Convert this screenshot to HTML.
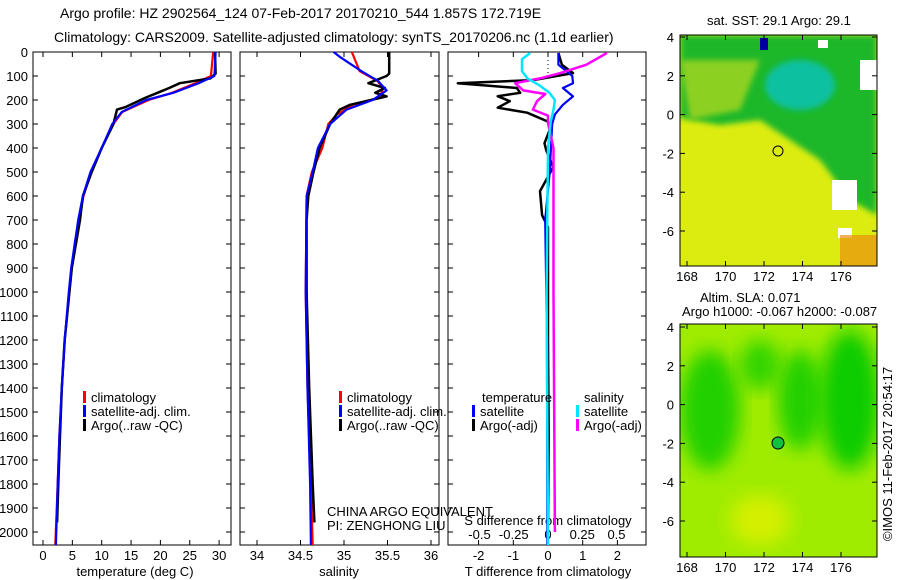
<!DOCTYPE html>
<html><head><meta charset="utf-8">
<style>
html,body{margin:0;padding:0;background:#fff;}
svg{display:block;font-family:"Liberation Sans",sans-serif;}
text{font-size:13px;fill:#000;}
text.title{font-size:14px;}
</style></head>
<body>
<svg id="chart" width="900" height="580" viewBox="0 0 900 580" xmlns="http://www.w3.org/2000/svg">
<defs>
<filter id="blur" x="-20%" y="-20%" width="140%" height="140%"><feGaussianBlur stdDeviation="9"/></filter>
<filter id="blur2" x="-20%" y="-20%" width="140%" height="140%"><feGaussianBlur stdDeviation="3"/></filter>
<clipPath id="clip1"><rect x="680" y="35" width="197" height="231"/></clipPath>
<clipPath id="clip2"><rect x="680" y="324" width="197" height="233"/></clipPath>
</defs>
<text class="title" x="60" y="18">Argo profile: HZ 2902564_124 07-Feb-2017 20170210_544 1.857S 172.719E</text>
<text class="title" x="54" y="42">Climatology: CARS2009. Satellite-adjusted climatology: synTS_20170206.nc (1.1d earlier)</text>

<g clip-path="url(#clip1)">
 <rect x="680" y="35" width="197" height="231" fill="#dcec10"/>
 <path d="M680,35 L877,35 L877,215 L850,200 L820,160 L790,140 L760,120 L720,125 L680,118 Z" fill="#1cb82a" filter="url(#blur2)"/>
 <path d="M680,60 L760,60 L740,110 L690,120 Z" fill="#8cd020" filter="url(#blur2)"/>
 <ellipse cx="800" cy="85" rx="35" ry="25" fill="#10c0a0" filter="url(#blur2)"/>
 <rect x="760" y="38" width="8" height="12" fill="#0000a0"/>
 <rect x="832" y="180" width="25" height="30" fill="#ffffff"/>
 <rect x="860" y="60" width="17" height="30" fill="#ffffff"/>
 <rect x="838" y="228" width="14" height="10" fill="#ffffff"/>
 <rect x="818" y="40" width="10" height="8" fill="#ffffff"/>
 <rect x="840" y="235" width="37" height="31" fill="#e89010" opacity="0.7"/>
 <circle cx="778" cy="151" r="5" fill="none" stroke="#000" stroke-width="1"/>
</g>
<rect x="680" y="35" width="197" height="231" fill="none" stroke="#000"/>
<text x="707" y="25">sat. SST: 29.1  Argo: 29.1</text>

<g clip-path="url(#clip2)">
 <rect x="680" y="324" width="197" height="233" fill="#a0ec00"/>
 <ellipse cx="710" cy="410" rx="30" ry="60" fill="#20d000" filter="url(#blur)"/>
 <ellipse cx="760" cy="365" rx="20" ry="25" fill="#30d400" filter="url(#blur)"/>
 <ellipse cx="800" cy="400" rx="22" ry="50" fill="#20d000" filter="url(#blur)"/>
 <ellipse cx="850" cy="400" rx="30" ry="70" fill="#10cc00" filter="url(#blur)"/>
 <ellipse cx="760" cy="520" rx="30" ry="25" fill="#d4f000" filter="url(#blur)"/>
 <circle cx="778" cy="443" r="6" fill="#10c040" stroke="#000" stroke-width="1"/>
</g>
<rect x="680" y="324" width="197" height="233" fill="none" stroke="#000"/>
<text x="700" y="302">Altim. SLA: 0.071</text>
<text x="682" y="316">Argo h1000: -0.067 h2000: -0.087</text>
<text transform="translate(892,454) rotate(-90)" text-anchor="middle">©IMOS 11-Feb-2017 20:54:17</text>

<text x="135" y="576" text-anchor="middle">temperature (deg C)</text>
<text x="339" y="576" text-anchor="middle">salinity</text>
<text x="548" y="576" text-anchor="middle">T difference from climatology</text>
<text x="548" y="525" text-anchor="middle">S difference from climatology</text>
<text x="327" y="516">CHINA ARGO EQUIVALENT</text>
<text x="327" y="530">PI: ZENGHONG LIU</text>
</svg>
<script>
// ---- data ----
const depthTicks = [0,100,200,300,400,500,600,700,800,900,1000,1100,1200,1300,1400,1500,1600,1700,1800,1900,2000];
const tempTicks = [0,5,10,15,20,25,30];
const salTicks = [34,34.5,35,35.5,36];
const salTickLabels = ["34","34.5","35","35.5","36"];
const dtTicks = [-2,-1,0,1,2];
const dsTicks = [-0.5,-0.25,0,0.25,0.5];
const dsTickLabels = ["-0.5","-0.25","0","0.25","0.5"];

const argoTDepth = [0,90,110,130,150,170,190,230,240,300,400,500,600,700,800,900,1000,1200,1400,1600,1800,1960];
const tempArgo = [29.3,29.4,28.5,23.3,21.5,19.5,17.5,14,12.6,12,10,8.3,6.8,6.3,5.6,4.9,4.5,3.7,3.2,2.9,2.6,2.4];
const climDepth = [0,100,130,170,200,250,300,400,500,600,700,800,900,1000,1200,1400,1600,1800,2054];
const tempClim = [29.0,28.6,26,22,18,13.5,12,10,8.2,6.9,6.1,5.4,4.9,4.5,3.7,3.2,2.8,2.5,2.1];
const tempSat = [29.4,29.2,26.5,22.2,17.6,13.4,11.8,10,8.1,6.8,6.0,5.4,4.8,4.4,3.7,3.2,2.8,2.5,2.2];

const argoSDepth = [0,90,100,130,150,170,185,220,240,300,400,500,600,700,1000,1400,1800,1960];
const salArgo = [35.52,35.52,35.49,35.28,35.47,35.36,35.49,35.07,34.95,34.84,34.72,34.65,34.59,34.57,34.57,34.6,34.64,34.66];
const salClimDepth = [0,80,120,150,190,220,260,300,400,500,600,1000,1400,1800,2054];
const salClim = [35.09,35.18,35.38,35.45,35.41,35.10,34.92,34.82,34.75,34.63,34.57,34.56,34.58,34.62,34.64];
const salSatDepth = [0,20,80,120,160,200,240,300,400,500,600,1000,1400,1800,2054];
const salSat = [34.88,34.95,35.2,35.39,35.49,35.33,35.03,34.84,34.70,34.64,34.57,34.56,34.58,34.61,34.62];

const dTArgoDepth = [4,53,88,117,130,150,170,184,205,232,253,290,325,380,410,480,580,680,730,900,1200,1600,1960];
const dTArgo = [0.3,0.4,0.72,-0.43,-2.6,-0.9,-0.8,-1.45,-1.1,-1.45,-0.6,0,0.05,-0.1,-0.05,0.15,-0.23,-0.17,0,0,0,0.02,0];
const dTSatDepth = [4,53,100,130,150,185,220,260,300,500,700,1200,2054];
const dTSat = [0.3,0.3,0.7,0.72,0.43,0.72,0.43,0.2,0.12,0.05,-0.08,-0.03,-0.02];
const dSArgoDepth = [4,53,88,110,130,160,175,205,240,265,295,400,1000,2000];
const dSArgo = [0.43,0.28,0.09,-0.06,-0.24,-0.18,-0.02,-0.08,-0.11,0,0,0.04,0.04,0.05];
const dSSatDepth = [4,30,80,110,140,170,200,240,290,400,1000,2054];
const dSSat = [-0.13,-0.19,-0.19,-0.15,-0.06,0.01,0.05,0.04,0.02,0,-0.01,0];

const mapLonTicks = [168,170,172,174,176];
const mapLatTicks = [4,2,0,-2,-4,-6];

// ---- scales ----
const NS = "http://www.w3.org/2000/svg";
const svg = document.getElementById('chart');
const TOP = 52, BOT = 545;
const yD = d => TOP + d * 0.24;
const xT = t => 43 + t * 5.87;
const xS = s => 257 + (s - 34) * 87;
const xDT = v => 548 + v * 34.7;
const xDS = v => 548 + v * 137;
const xLon = l => 687 + (l - 168) * 19.25;
const yLat1 = l => 37 + (4 - l) * 19.4;
const yLat2 = l => 327 + (4 - l) * 19.4;

function mk(tag, attrs, parent) {
  const e = document.createElementNS(NS, tag);
  for (const k in attrs) e.setAttribute(k, attrs[k]);
  (parent || svg).appendChild(e);
  return e;
}

const panels = [{x0:33,x1:231,n:'temperature'},{x0:240,x1:439,n:'salinity'},{x0:448,x1:646,n:'difference'}];
panels.forEach(p => {
  const r = mk('rect', {x:p.x0, y:TOP, width:p.x1-p.x0, height:BOT-TOP, fill:'none', stroke:'#000'});
  
  
  depthTicks.forEach(d => {
    const t1 = mk('line', {x1:p.x0, x2:p.x0+5, y1:yD(d), y2:yD(d), stroke:'#000'});
    
    
    const t2 = mk('line', {x1:p.x1, x2:p.x1-5, y1:yD(d), y2:yD(d), stroke:'#000'});
    
    
  });
});
depthTicks.forEach(d => {
  const t = mk('text', {x:28, y:yD(d)+5, 'text-anchor':'end'});
  t.textContent = d;
  
  
});

function xtick(x, label, ylab, name, top) {
  const l = mk('line', {x1:x, x2:x, y1:BOT, y2:BOT-5, stroke:'#000'});
  
  
  if (top) {
    const l2 = mk('line', {x1:x, x2:x, y1:TOP, y2:TOP+5, stroke:'#000'});
    
    
  }
  const t = mk('text', {x:x, y:ylab, 'text-anchor':'middle'});
  t.textContent = label;
  
  
}
tempTicks.forEach(v => xtick(xT(v), v, 560, 'temperature', true));
salTicks.forEach((v,i) => xtick(xS(v), salTickLabels[i], 560, 'salinity', true));
dtTicks.forEach(v => xtick(xDT(v), v, 560, 't-diff', true));
dsTicks.forEach((v,i) => {
  const t = mk('text', {x:xDS(v), y:539, 'text-anchor':'middle'});
  t.textContent = dsTickLabels[i];
  
  
});

// zero dotted line
const zl = mk('line', {x1:xDT(0), x2:xDT(0), y1:TOP, y2:yD(110), stroke:'#000', 'stroke-dasharray':'1,3'});



function series(depths, vals, xf, color, w, name) {
  const pts = depths.map((d,i) => xf(vals[i]).toFixed(1) + ',' + yD(d).toFixed(1)).join(' ');
  const pl = mk('polyline', {points:pts, fill:'none', stroke:color, 'stroke-width':w, 'stroke-linejoin':'round'});
  
  
}
series(climDepth, tempClim, xT, '#ff0000', 2.2, 'temperature-climatology-line');
series(argoTDepth, tempArgo, xT, '#000', 2.5, 'temperature-argo-line');
series(climDepth, tempSat, xT, '#0000ff', 2.2, 'temperature-satellite-line');
series(salClimDepth, salClim, xS, '#ff0000', 2.2, 'salinity-climatology-line');
series(argoSDepth, salArgo, xS, '#000', 2.5, 'salinity-argo-line');
series(salSatDepth, salSat, xS, '#0000ff', 2.2, 'salinity-satellite-line');
series(dTArgoDepth, dTArgo, xDT, '#000', 2.5, 't-diff-argo-line');
series(dTSatDepth, dTSat, xDT, '#0000ff', 2.2, 't-diff-satellite-line');
series(dSArgoDepth, dSArgo, xDS, '#ff00ff', 2.5, 's-diff-argo-line');
series(dSSatDepth, dSSat, xDS, '#00e8ff', 2.5, 's-diff-satellite-line');

// legends
function legend(x, y, color, label) {
  const b = mk('rect', {x:x, y:y-11, width:3, height:12, fill:color});
  
  
  const t = mk('text', {x:x+8, y:y});
  t.textContent = label;
  
  
}
[[83],[339]].forEach(([x]) => {
  legend(x, 402, '#ff0000', 'climatology');
  legend(x, 416, '#0000ff', 'satellite-adj. clim.');
  legend(x, 430, '#000', 'Argo(..raw -QC)');
});
const lt = mk('text', {x:482, y:402}); lt.textContent = 'temperature';


const ls = mk('text', {x:584, y:402}); ls.textContent = 'salinity';


legend(472, 416, '#0000ff', 'satellite');
legend(472, 430, '#000', 'Argo(-adj)');
legend(576, 416, '#00e8ff', 'satellite');
legend(576, 430, '#ff00ff', 'Argo(-adj)');

// map axes
[[35,266,yLat1],[324,557,yLat2]].forEach(([t,b,yf], mi) => {
  mapLonTicks.forEach(l => {
    const x = xLon(l);
    const a = mk('line', {x1:x, x2:x, y1:b, y2:b-5, stroke:'#000'});
    
    
    const a2 = mk('line', {x1:x, x2:x, y1:t, y2:t+5, stroke:'#000'});
    
    
    const tx = mk('text', {x:x, y:b+15, 'text-anchor':'middle'});
    tx.textContent = l;
    
    
  });
  mapLatTicks.forEach(l => {
    const y = yf(l);
    const a = mk('line', {x1:680, x2:685, y1:y, y2:y, stroke:'#000'});
    
    
    const a2 = mk('line', {x1:877, x2:872, y1:y, y2:y, stroke:'#000'});
    
    
    const tx = mk('text', {x:674, y:y+5, 'text-anchor':'end'});
    tx.textContent = l;
    
    
  });
});
</script>
</body></html>
